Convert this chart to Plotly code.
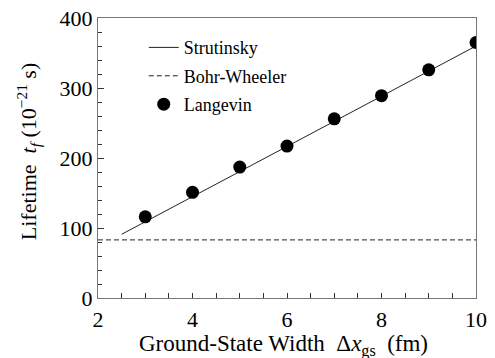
import plotly.graph_objects as go

# Data
langevin_x = [3, 4, 5, 6, 7, 8, 9, 10]
langevin_y = [116, 151, 187, 217, 256, 289, 326, 365]
strut_x = [2.5, 10]
strut_y = [91, 360]
bw_x = [2, 10]
bw_y = [83, 83]
x_ticks = [2, 4, 6, 8, 10]
y_ticks = [0, 100, 200, 300, 400]
x_title = "Ground-State Width  Δ<i>x</i><sub>gs</sub>  (fm)"
y_title = "Lifetime  <i>t<sub>f</sub></i> (10<sup>−21</sup> s)"

FONT = "Liberation Serif, Times New Roman, serif"

fig = go.Figure()
fig.add_trace(go.Scatter(x=strut_x, y=strut_y, mode="lines", name="Strutinsky",
                         legendgroup="a", line=dict(color="#222", width=1)))
fig.add_trace(go.Scatter(x=bw_x, y=bw_y, mode="lines", name="Bohr-Wheeler",
                         legendgroup="b", line=dict(color="#222", width=1, dash="5px,3px")))
fig.add_trace(go.Scatter(x=langevin_x, y=langevin_y, mode="markers", name="Langevin",
                         legendgroup="c", marker=dict(color="black", size=13)))

fig.update_layout(
    width=495, height=358,
    margin=dict(l=98, r=19, t=18, b=60, autoexpand=False),
    paper_bgcolor="white", plot_bgcolor="white",
    font=dict(family=FONT, color="#000", size=18),
    showlegend=True,
    legend=dict(x=0.121, y=0.96, xanchor="left", yanchor="top",
                bgcolor="rgba(0,0,0,0)", font=dict(size=18, family=FONT, color="#000"),
                itemwidth=30, tracegroupgap=2),
    annotations=[
        dict(text=x_title, xref="paper", yref="paper", x=0.492, y=-0.168,
             xanchor="center", yanchor="middle", showarrow=False,
             font=dict(size=23, family=FONT, color="#000")),
        dict(text=y_title, xref="paper", yref="paper", x=-0.185, y=0.521,
             xanchor="center", yanchor="middle", showarrow=False, textangle=-90,
             font=dict(size=22, family=FONT, color="#000")),
    ],
)
fig.update_xaxes(
    range=[2, 10], tickvals=x_ticks, ticktext=[str(v) for v in x_ticks],
    ticks="inside", ticklen=5, tickcolor="#333", tickwidth=1,
    minor=dict(dtick=0.5, ticks="inside", ticklen=5, tickcolor="#333"),
    showline=True, linecolor="#777", linewidth=1, mirror=True,
    showgrid=False, zeroline=False, automargin=False,
    tickfont=dict(size=22, family=FONT, color="#000"),
    ticklabelstandoff=2,
)
fig.update_yaxes(
    range=[0, 400], tickvals=y_ticks, ticktext=[str(v) for v in y_ticks],
    ticks="inside", ticklen=6, tickcolor="#333", tickwidth=1,
    minor=dict(dtick=20, ticks="inside", ticklen=4, tickcolor="#333"),
    showline=True, linecolor="#777", linewidth=1, mirror=True,
    showgrid=False, zeroline=False, automargin=False,
    tickfont=dict(size=22, family=FONT, color="#000"),
    ticklabelstandoff=0,
)

fig.write_html("out.html", config={"displayModeBar": False})

# remove default browser body margin so the figure sits at the page corner
with open("out.html", encoding="utf-8") as f:
    html = f.read()
html = html.replace("<body>", '<body style="margin:0;padding:0;overflow:hidden">', 1)
with open("out.html", "w", encoding="utf-8") as f:
    f.write(html)
